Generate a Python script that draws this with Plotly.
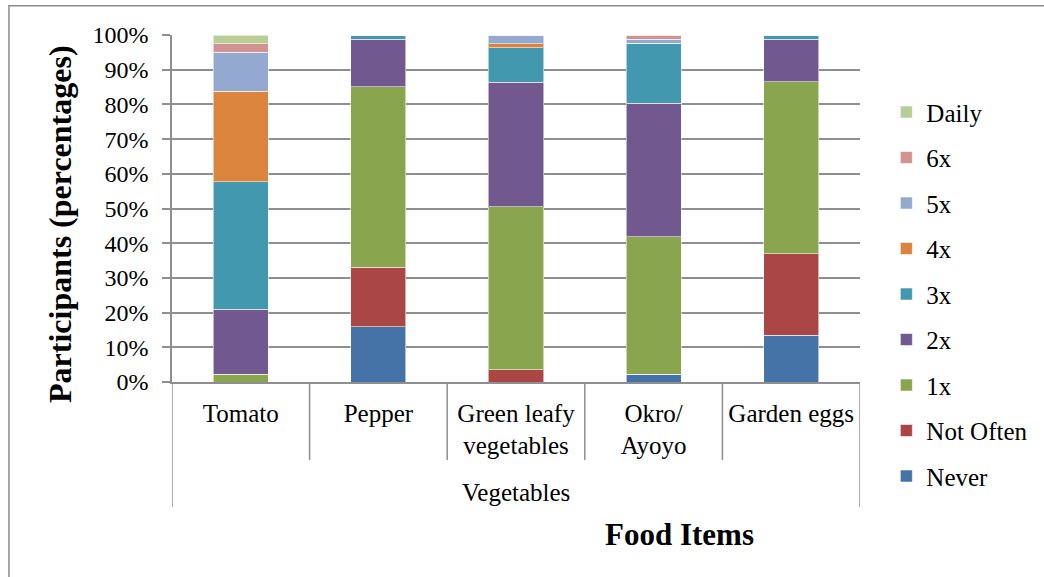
import plotly.graph_objects as go

# Food items (vegetables) and how often participants consume them
categories = ["Tomato", "Pepper", "Green leafy vegetables", "Okro/ Ayoyo", "Garden eggs"]
tick_labels = ["Tomato", "Pepper", "Green leafy<br>vegetables", "Okro/<br>Ayoyo", "Garden eggs"]
group_label = "Vegetables"

# Percentage of participants per frequency level
never     = [0.0, 15.9, 0.0, 2.3, 13.5]
not_often = [0.0, 17.2, 3.6, 0.0, 23.5]
once      = [2.2, 52.0, 46.9, 39.5, 49.5]
twice     = [18.7, 13.7, 35.9, 38.5, 12.3]
thrice    = [36.8, 1.2, 9.9, 17.3, 1.2]
four      = [26.1, 0.0, 1.2, 0.0, 0.0]
five      = [11.2, 0.0, 2.5, 1.2, 0.0]
six       = [2.5, 0.0, 0.0, 1.2, 0.0]
daily     = [2.5, 0.0, 0.0, 0.0, 0.0]

series = [
    ("Never", never, "#4572a7"),
    ("Not Often", not_often, "#aa4643"),
    ("1x", once, "#89a54e"),
    ("2x", twice, "#71588f"),
    ("3x", thrice, "#4198af"),
    ("4x", four, "#db843d"),
    ("5x", five, "#93a9cf"),
    ("6x", six, "#d19392"),
    ("Daily", daily, "#b9cd96"),
]

SERIF = "Liberation Serif, Times New Roman, serif"
GRID = "#8f8f8f"

fig = go.Figure()
n = len(series)
for i, (name, vals, color) in enumerate(series):
    fig.add_trace(go.Bar(
        x=categories, y=vals, name=name, legendgroup=name,
        legendrank=n - i,
        marker=dict(color=color, line=dict(color="rgba(255,255,255,0.55)", width=1)),
        width=0.4,
    ))

# Category dividers below the axis (short inner ones, long outer ones)
shapes = []
for xv in [0.5, 1.5, 2.5, 3.5]:
    shapes.append(dict(type="line", xref="x", yref="paper", x0=xv, x1=xv,
                       y0=0, y1=-0.225, line=dict(color=GRID, width=1.5)))
for xv in [-0.5, 4.5]:
    shapes.append(dict(type="line", xref="x", yref="paper", x0=xv, x1=xv,
                       y0=0, y1=-0.36, line=dict(color=GRID, width=1.5)))
# Chart frame
shapes.append(dict(type="rect", xref="paper", yref="paper",
                   x0=-0.237, x1=1.3, y0=-0.7, y1=1.084,
                   line=dict(color="#8c8c8c", width=1.5)))

fig.update_layout(
    width=1044, height=577,
    margin=dict(l=172, r=184, t=35, b=195),
    paper_bgcolor="white", plot_bgcolor="white",
    barmode="stack", bargap=0.6,
    font=dict(family=SERIF, color="black"),
    shapes=shapes,
    legend=dict(
        traceorder="grouped", tracegroupgap=10, maxheight=1,
        xref="container", yref="container",
        x=0.849, y=0.49, xanchor="left", yanchor="middle",
        font=dict(family=SERIF, size=25, color="black"),
        bgcolor="rgba(0,0,0,0)",
    ),
    annotations=[
        dict(text=group_label, xref="paper", yref="paper", x=0.5, y=-0.315,
             xanchor="center", yanchor="middle", yshift=-1,
             showarrow=False, font=dict(family=SERIF, size=25)),
        dict(text="<b>Food Items</b>", xref="paper", yref="paper", x=0.738, y=-0.44,
             xanchor="center", yanchor="middle",
             showarrow=False, font=dict(family=SERIF, size=31)),
        dict(text="<b>Participants (percentages)</b>", xref="paper", yref="paper",
             x=-0.163, y=0.455, xanchor="center", yanchor="middle", textangle=-90,
             showarrow=False, font=dict(family=SERIF, size=32)),
    ],
)

fig.update_xaxes(
    type="category", range=[-0.5, 4.5],
    tickvals=categories, ticktext=tick_labels,
    tickfont=dict(family=SERIF, size=25),
    showline=True, linecolor=GRID, linewidth=1.5,
    ticks="", showgrid=False, ticklabelstandoff=8,
)
fig.update_yaxes(
    range=[0, 100], dtick=10, ticksuffix="%",
    tickfont=dict(family=SERIF, size=24),
    showline=True, linecolor=GRID, linewidth=1.5,
    ticks="outside", ticklen=8, tickcolor=GRID, tickwidth=1.5,
    showgrid=True, gridcolor=GRID, gridwidth=1.5,
    ticklabelstandoff=9,
)

fig.write_html("out.html")
